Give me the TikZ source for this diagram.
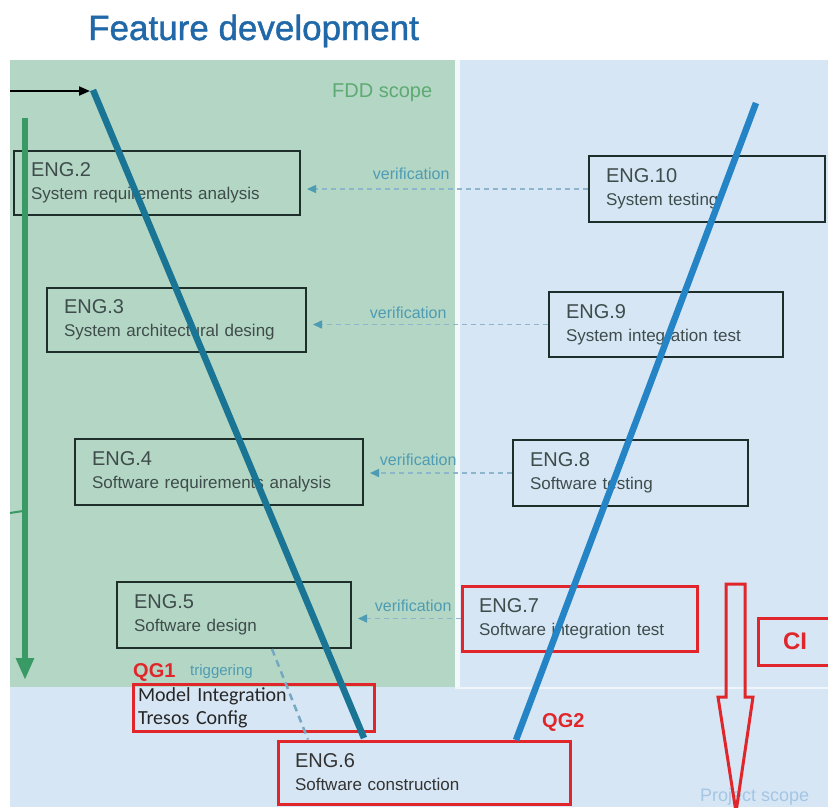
\documentclass[tikz,border=0pt]{standalone}
\usepackage{fontspec}
\setmainfont{Liberation Sans}
\newfontfamily\calib{Carlito}
\newfontfamily\titlefont[FakeBold=1.2]{Liberation Sans}
\usetikzlibrary{arrows.meta,calc}

\definecolor{bgGreen}{HTML}{B4D6C4}
\definecolor{bgBlue}{HTML}{D6E6F4}
\definecolor{titleBlue}{HTML}{2068A8}
\definecolor{lineTeal}{HTML}{1A7494}
\definecolor{lineBlue}{HTML}{2584C6}
\definecolor{arrGreen}{HTML}{3A9A66}
\definecolor{boxDark}{HTML}{1E2E2A}
\definecolor{redQ}{HTML}{E0262A}
\definecolor{txtGray}{HTML}{3E4C4C}
\definecolor{verifTxt}{HTML}{4E9CB4}
\definecolor{dashCol}{HTML}{8DB6CC}
\definecolor{fddGreen}{HTML}{5DAA72}
\definecolor{projTxt}{HTML}{A4C6E4}

\tikzset{
  engbox/.style={draw=boxDark, line width=2pt, rectangle, inner xsep=17pt, inner ysep=0pt,
    align=left, text=txtGray, font=\fontsize{17}{23}\selectfont},
  redbox/.style={engbox, draw=redQ, line width=3pt},
  verif/.style={dashCol, line width=1.5pt, dash pattern=on 5pt off 4pt,
    -{Triangle[length=9pt,width=8pt,fill=verifTxt,color=verifTxt]}, shorten >=6pt},
  veriflabel/.style={anchor=base east, text=verifTxt, font=\fontsize{16}{18}\selectfont},
  vline/.style={line width=6.5pt, line cap=butt},
  qg/.style={text=redQ, font=\bfseries\fontsize{20}{22}\selectfont, inner sep=0pt}
}

\newcommand{\engtext}[2]{{\fontsize{20}{23}\selectfont #1}\\#2}

\begin{document}
\begin{tikzpicture}[x=1pt, y=-1pt]
  \useasboundingbox (0,0) rectangle (828,807);
  \clip (0,0) rectangle (828,807);

  % backgrounds: project scope (blue) and FDD scope (green)
  \fill[white] (0,0) rectangle (828,807);
  \fill[bgBlue] (10,60) rectangle (828,807);
  \fill[bgGreen] (10,60) rectangle (455,687);
  \fill[white!70!bgBlue] (455,60) rectangle (460,687);
  \fill[white!60!bgBlue] (455,686.5) rectangle (828,688.5);

  % headings
  \node[anchor=base west, inner sep=0pt, text=titleBlue, font=\titlefont\fontsize{35}{40}\selectfont] (title) at (88,40) {Feature development};
  \node[anchor=base west, inner sep=0pt, text=fddGreen, font=\fontsize{20}{22}\selectfont] (fdd) at (332,97) {FDD scope};
  \node[anchor=base west, inner sep=0pt, text=projTxt, font=\fontsize{18}{20}\selectfont] (proj) at (700,801) {Project scope};

  % left branch
  \node[engbox, minimum width=286pt, minimum height=64pt, text width=252pt] (eng2) at (157,183) {\engtext{ENG.2}{System requirements analysis}};
  \node[engbox, minimum width=259pt, minimum height=64pt, text width=225pt] (eng3) at (176.5,320) {\engtext{ENG.3}{System architectural desing}};
  \node[engbox, minimum width=288pt, minimum height=66pt, text width=254pt] (eng4) at (219,472) {\engtext{ENG.4}{Software requirements analysis}};
  \node[engbox, minimum width=234pt, minimum height=66pt, text width=200pt] (eng5) at (234,615) {\engtext{ENG.5}{Software design}};

  % right branch
  \node[engbox, minimum width=236pt, minimum height=66pt, text width=202pt] (eng10) at (707,189) {\engtext{ENG.10}{System testing}};
  \node[engbox, minimum width=234pt, minimum height=65pt, text width=200pt] (eng9) at (666,324.5) {\engtext{ENG.9}{System integration test}};
  \node[engbox, minimum width=235pt, minimum height=66pt, text width=201pt] (eng8) at (630.5,473) {\engtext{ENG.8}{Software testing}};
  \node[redbox, minimum width=235pt, minimum height=65pt, text width=201pt] (eng7) at (579.5,618.5) {\engtext{ENG.7}{Software integration test}};

  % bottom of the V
  \node[redbox, minimum width=292pt, minimum height=63pt, text width=258pt, text=black!80] (eng6) at (424,772.5) {\engtext{ENG.6}{Software construction}};
  \node[redbox, minimum width=241pt, minimum height=47pt, inner xsep=5pt, text width=231pt, text=black!85,
        font=\calib\fontsize{20}{23}\selectfont] (model) at (253.5,707.5) {Model Integration\\Tresos Config};
  \node[redbox, minimum width=92pt, minimum height=47pt, inner xsep=25pt, text width=42pt, text=redQ,
        font=\bfseries\fontsize{24}{26}\selectfont] (ci) at (804,641.5) {CI};

  % quality gates
  \node[qg, anchor=base west] (qg1) at (133,677) {QG1};
  \node[anchor=base west, inner sep=0pt, text=verifTxt, font=\fontsize{15}{17}\selectfont] (trig) at (190,675) {triggering};
  \node[qg, anchor=base west] (qg2) at (542,727) {QG2};

  % verification links
  \draw[verif] (eng10.west) -- (eng10.west -| eng2.east);
  \draw[verif] (eng9.west) -- (eng9.west -| eng3.east);
  \draw[verif] (eng8.west) -- (eng8.west -| eng4.east);
  \draw[verif] (eng7.west) -- (eng7.west -| eng5.east);
  \node[veriflabel] (v1) at (453,179) {verification};
  \node[veriflabel] (v2) at (450,318) {verification};
  \node[veriflabel] (v3) at (460,465) {verification};
  \node[veriflabel] (v4) at (455,611) {verification};

  % triggering link
  \draw[dashCol!80!lineTeal, line width=2.5pt, dash pattern=on 7pt off 5pt]
    ([xshift=38pt]eng5.south) -- ([xshift=-116pt]eng6.north);

  % the V
  \coordinate (vtopL) at (93,90);
  \coordinate (vbotL) at (364,738);
  \coordinate (vtopR) at (756,103);
  \coordinate (vbotR) at (516,740);
  \draw[vline, lineTeal] (vtopL) -- (vbotL);
  \draw[vline, lineBlue] (vtopR) -- (vbotR);

  % entry arrow
  \coordinate (entry) at (10,91);
  \draw[black, line width=2pt, -{Triangle[length=11pt,width=9pt]}] (entry) -- ([xshift=-3pt]vtopL |- entry);

  % flow arrow on the left
  \coordinate (gtop) at (25,118);
  \coordinate (gbot) at (25,680);
  \draw[arrGreen, line width=6pt, -{Triangle[length=22pt,width=17pt]}] (gtop) -- (gbot);
  \coordinate (tick) at (10,513);
  \draw[arrGreen, line width=2pt] (tick) -- (23,511);

  % hollow arrow into the project scope
  \draw[redQ, line width=3pt, line join=miter]
    (726,584) -- (745,584) -- (745,697) -- (753,697) -- (736,812) -- (718,697) -- (726,697) -- cycle;
\end{tikzpicture}
\end{document}
